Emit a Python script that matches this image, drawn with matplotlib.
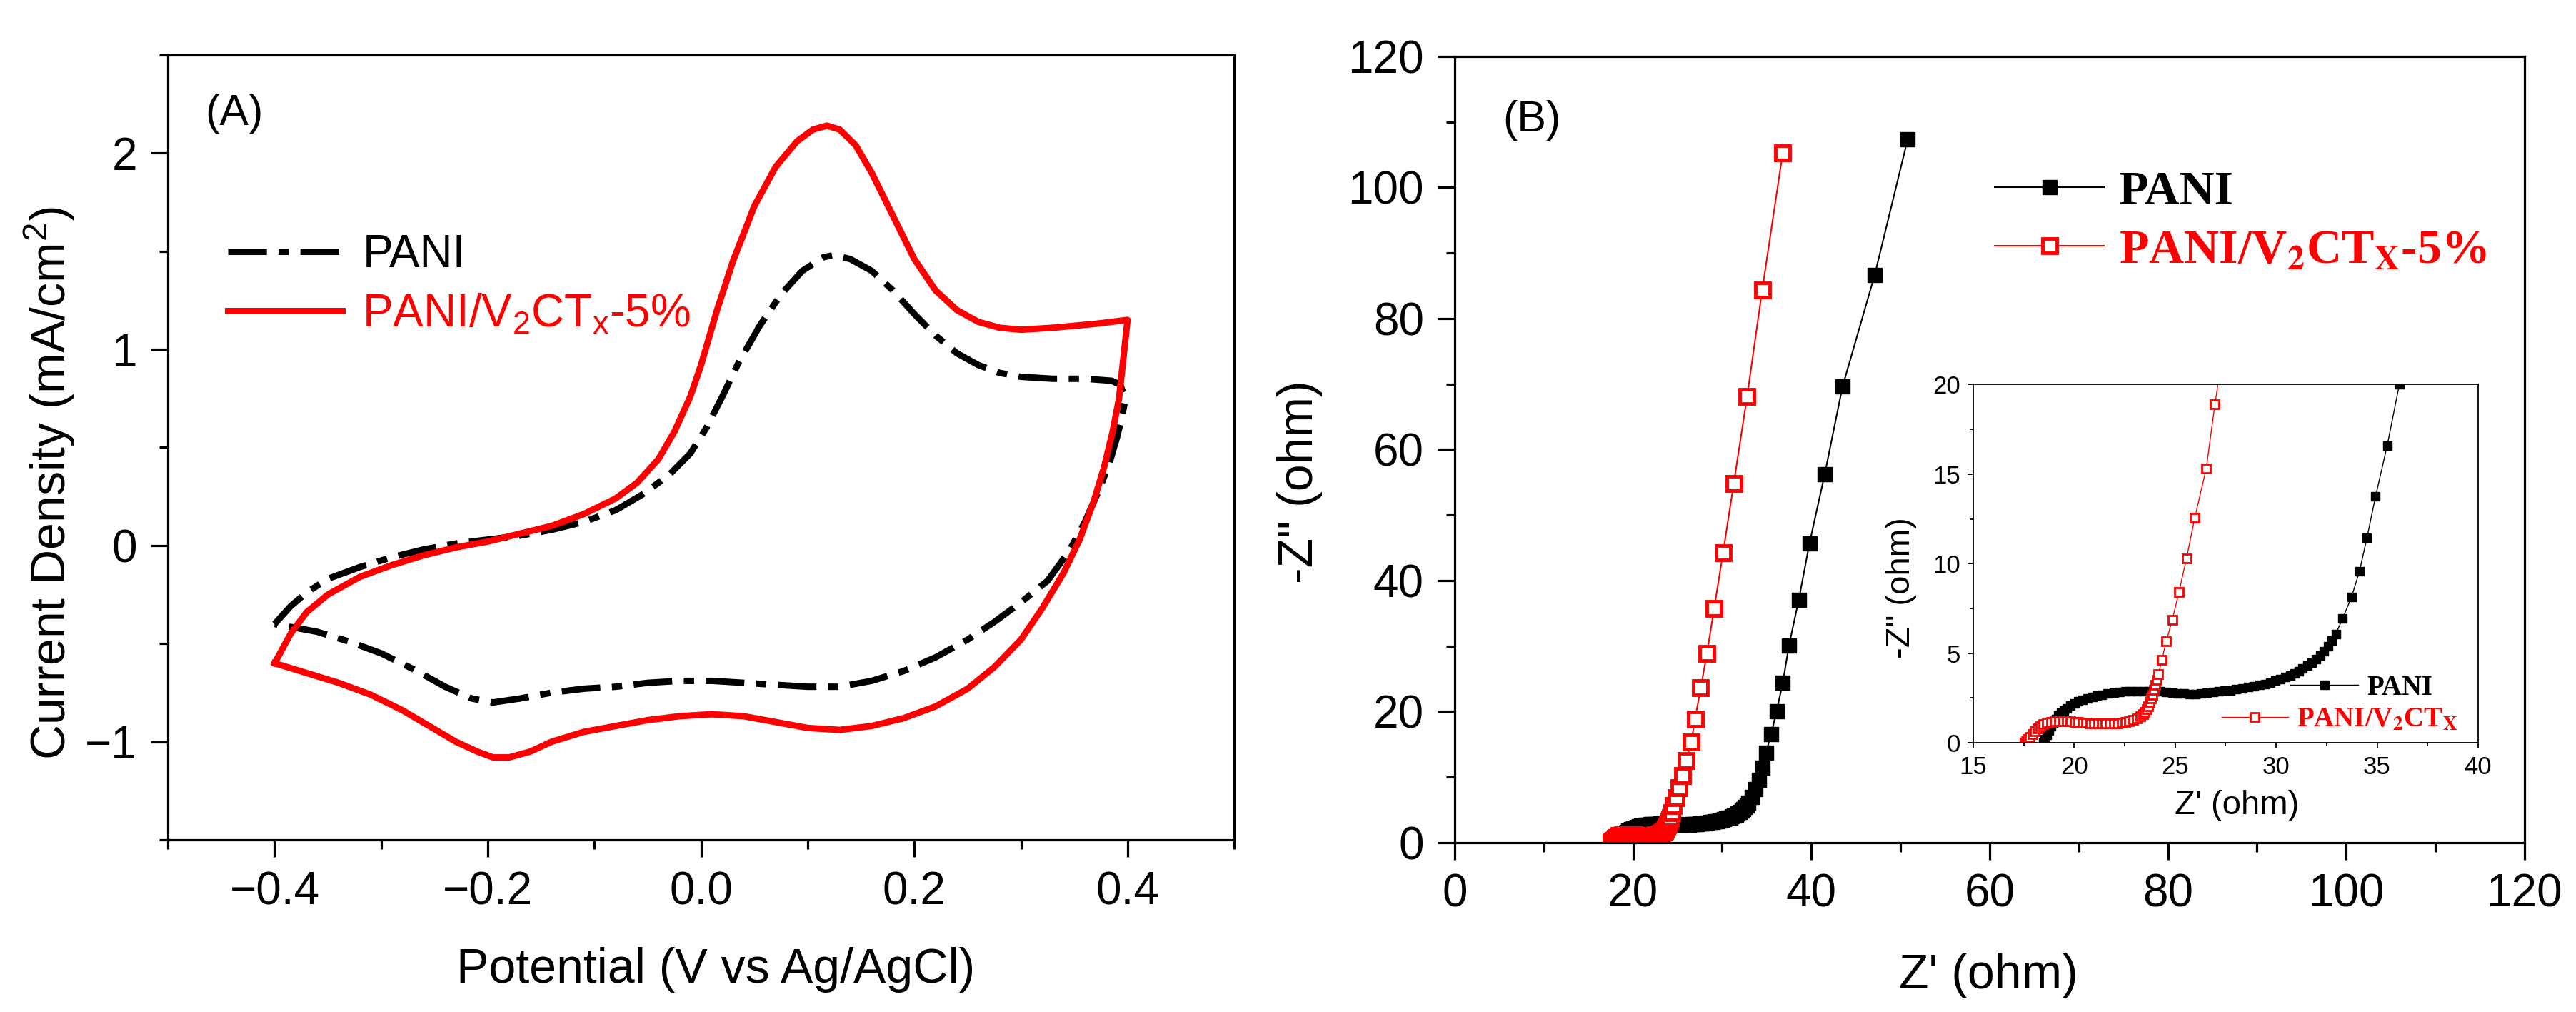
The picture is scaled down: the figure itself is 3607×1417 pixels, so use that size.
import matplotlib
matplotlib.use("Agg")
from matplotlib import pyplot as plt
from matplotlib.ticker import MultipleLocator, FuncFormatter
from matplotlib.font_manager import FontProperties
import numpy as np

plt.rcParams["font.family"] = ["Liberation Sans", "DejaVu Sans"]
plt.rcParams["mathtext.fontset"] = "custom"
plt.rcParams["mathtext.rm"] = "Liberation Sans"
plt.rcParams["mathtext.it"] = "Liberation Sans:italic"
plt.rcParams["mathtext.bf"] = "Liberation Sans:bold"

# (A) cyclic voltammetry, potential (V) and current density (mA/cm2)
pani_cv_v = [-0.400, -0.385, -0.370, -0.350, -0.320, -0.290, -0.260, -0.230, -0.200, -0.170,
             -0.140, -0.110, -0.080, -0.055, -0.030, -0.010, 0.005, 0.020, 0.035, 0.055,
             0.075, 0.095, 0.115, 0.125, 0.140, 0.160, 0.180, 0.200, 0.220, 0.240,
             0.260, 0.280, 0.300, 0.330, 0.360, 0.385, 0.393, 0.398, 0.395, 0.390,
             0.383, 0.373, 0.360, 0.345, 0.325, 0.300, 0.275, 0.250, 0.220, 0.190,
             0.160, 0.130, 0.100, 0.070, 0.040, 0.010, -0.020, -0.050, -0.080, -0.110,
             -0.140, -0.170, -0.195, -0.215, -0.240, -0.270, -0.300, -0.330, -0.360, -0.400]
pani_cv_j = [-0.40, -0.31, -0.24, -0.17, -0.11, -0.06, -0.02, 0.01, 0.03, 0.05,
             0.08, 0.12, 0.18, 0.26, 0.36, 0.47, 0.60, 0.76, 0.93, 1.12,
             1.28, 1.40, 1.47, 1.48, 1.46, 1.40, 1.30, 1.18, 1.07, 0.98,
             0.92, 0.88, 0.86, 0.85, 0.85, 0.84, 0.82, 0.75, 0.66, 0.55,
             0.42, 0.28, 0.12, -0.03, -0.18, -0.29, -0.39, -0.48, -0.57, -0.64,
             -0.69, -0.72, -0.72, -0.71, -0.70, -0.69, -0.69, -0.70, -0.72, -0.73,
             -0.75, -0.78, -0.80, -0.78, -0.72, -0.63, -0.55, -0.49, -0.44, -0.40]

comp_cv_v = [-0.400, -0.385, -0.370, -0.350, -0.320, -0.290, -0.260, -0.230, -0.200, -0.170,
             -0.140, -0.110, -0.080, -0.060, -0.040, -0.025, -0.010, 0.000, 0.015, 0.030,
             0.050, 0.070, 0.090, 0.105, 0.118, 0.130, 0.145, 0.160, 0.180, 0.200,
             0.220, 0.240, 0.260, 0.280, 0.300, 0.330, 0.370, 0.400, 0.396, 0.392,
             0.386, 0.378, 0.368, 0.355, 0.340, 0.320, 0.300, 0.275, 0.250, 0.220,
             0.190, 0.160, 0.130, 0.100, 0.070, 0.040, 0.010, -0.020, -0.050, -0.080,
             -0.110, -0.140, -0.160, -0.180, -0.195, -0.210, -0.230, -0.255, -0.280, -0.310,
             -0.340, -0.370, -0.400]
comp_cv_j = [-0.60, -0.45, -0.34, -0.25, -0.16, -0.10, -0.05, -0.01, 0.02, 0.06,
             0.10, 0.16, 0.24, 0.32, 0.44, 0.58, 0.76, 0.92, 1.20, 1.45,
             1.73, 1.93, 2.06, 2.12, 2.14, 2.12, 2.04, 1.90, 1.68, 1.46,
             1.30, 1.20, 1.14, 1.11, 1.10, 1.11, 1.13, 1.15, 0.95, 0.75,
             0.58, 0.40, 0.22, 0.03, -0.14, -0.32, -0.48, -0.62, -0.73, -0.82,
             -0.88, -0.92, -0.94, -0.93, -0.90, -0.87, -0.86, -0.87, -0.89, -0.92,
             -0.95, -1.00, -1.05, -1.08, -1.08, -1.05, -1.00, -0.92, -0.84, -0.76,
             -0.70, -0.65, -0.60]

# (B) Nyquist plot, Z' and -Z'' (ohm)
pani_zre = [18.45, 18.55, 18.65, 18.75, 18.86, 18.97, 19.09, 19.20, 19.34, 19.48,
            19.63, 19.80, 20.02, 20.20, 20.41, 20.65, 20.89, 21.13, 21.37, 21.66,
            21.95, 22.24, 22.53, 22.82, 23.11, 23.40, 23.69, 23.98, 24.27, 24.56,
            24.85, 25.13, 25.42, 25.71, 26.00, 26.29, 26.58, 26.87, 27.16, 27.45,
            27.74, 28.03, 28.32, 28.61, 28.90, 29.19, 29.48, 29.72, 29.96, 30.20,
            30.44, 30.69, 30.93, 31.12, 31.31, 31.54, 31.76, 31.97, 32.18, 32.38,
            32.57, 32.76, 32.95, 33.30, 33.73, 34.13, 34.50, 34.92, 35.50, 36.10,
            36.80, 37.50, 38.60, 39.80, 41.50, 43.50, 47.10, 50.80]
pani_zim = [0.00, 0.20, 0.45, 0.70, 0.93, 1.13, 1.33, 1.50, 1.66, 1.80,
            1.93, 2.07, 2.20, 2.30, 2.40, 2.49, 2.56, 2.63, 2.69, 2.75,
            2.80, 2.83, 2.86, 2.88, 2.89, 2.89, 2.89, 2.88, 2.86, 2.83,
            2.80, 2.77, 2.74, 2.73, 2.73, 2.76, 2.80, 2.83, 2.86, 2.90,
            2.93, 2.98, 3.04, 3.10, 3.16, 3.22, 3.29, 3.37, 3.46, 3.56,
            3.66, 3.76, 3.86, 3.99, 4.13, 4.29, 4.46, 4.65, 4.86, 5.10,
            5.39, 5.70, 6.06, 6.96, 8.12, 9.59, 11.45, 13.74, 16.60, 20.00,
            24.40, 30.10, 37.10, 45.70, 56.20, 69.60, 86.60, 107.30]

comp_zre = [17.55, 17.62, 17.70, 17.80, 17.93, 18.05, 18.19, 18.32, 18.47, 18.66,
            18.86, 19.05, 19.25, 19.44, 19.63, 19.82, 20.02, 20.21, 20.41, 20.60,
            20.79, 20.98, 21.18, 21.37, 21.56, 21.75, 21.95, 22.14, 22.34, 22.53,
            22.72, 22.92, 23.11, 23.26, 23.40, 23.50, 23.59, 23.67, 23.75, 23.82,
            23.88, 23.95, 24.02, 24.10, 24.17, 24.34, 24.56, 24.86, 25.19, 25.56,
            25.97, 26.54, 26.97, 27.60, 28.30, 29.10, 30.10, 31.30, 32.80, 34.50,
            36.80]
comp_zim = [0.00, 0.10, 0.20, 0.33, 0.47, 0.63, 0.80, 0.93, 1.04, 1.11,
            1.16, 1.19, 1.20, 1.20, 1.20, 1.19, 1.17, 1.15, 1.13, 1.11,
            1.09, 1.09, 1.09, 1.08, 1.07, 1.07, 1.07, 1.09, 1.11, 1.15,
            1.20, 1.27, 1.36, 1.47, 1.60, 1.72, 1.86, 2.05, 2.26, 2.47,
            2.69, 2.95, 3.22, 3.52, 3.83, 4.62, 5.66, 6.88, 8.42, 10.28,
            12.56, 15.31, 18.90, 23.60, 28.90, 35.70, 44.20, 54.80, 68.10, 84.40,
            105.30]

pani_label = "PANI"
comp_label_a = r"PANI/V$_\mathrm{2}$CT$_\mathrm{x}$-5%"
comp_label_b = r"PANI/V$_\mathbf{2}$CT$_\mathbf{X}$-5%"
comp_label_inset = r"PANI/V$_\mathbf{2}$CT$_\mathbf{X}$"

red = "#ff0000"


def style_axes(ax, lw, major_len, minor_len, size, pad):
    for s in ax.spines.values():
        s.set_linewidth(lw)
    ax.tick_params(which="both", direction="out", width=lw, top=False, right=False,
                   labelsize=size, pad=pad)
    ax.tick_params(which="major", length=major_len)
    ax.tick_params(which="minor", length=minor_len)


fig = plt.figure(figsize=(36.07, 14.17), dpi=100)

# ---- panel A ----
ax_a = fig.add_axes([0.0652, 0.1701, 0.4139, 0.7756])
ax_a.plot(pani_cv_v, pani_cv_j, color="black", lw=6.5, dashes=(6, 1.8, 1.6, 1.8),
          label=pani_label)
ax_a.plot(comp_cv_v, comp_cv_j, color=red, lw=6.5, label=comp_label_a)
ax_a.set_xlim(-0.5, 0.5)
ax_a.set_ylim(-1.5, 2.5)
ax_a.xaxis.set_major_locator(MultipleLocator(0.2))
ax_a.xaxis.set_minor_locator(MultipleLocator(0.1))
ax_a.yaxis.set_major_locator(MultipleLocator(1))
ax_a.yaxis.set_minor_locator(MultipleLocator(0.5))
ax_a.xaxis.set_major_formatter(FuncFormatter(lambda v, p: f"{v:.1f}".replace("-", "\u2212")))
ax_a.yaxis.set_major_formatter(FuncFormatter(lambda v, p: f"{v:.0f}".replace("-", "\u2212")))
style_axes(ax_a, 2.3, 17, 9, 46, 14)
ax_a.set_xlabel("Potential (V vs Ag/AgCl)", fontsize=49, va="center")
ax_a.xaxis.set_label_coords(0.514, -0.166)
ax_a.set_ylabel(r"Current Density (mA/cm$^\mathrm{2}$)", fontsize=49, va="center")
ax_a.yaxis.set_label_coords(-0.111, 0.454)
ax_a.text(0.035, 0.925, "(A)", transform=ax_a.transAxes, fontsize=44, ha="left", va="center")
leg_a = ax_a.legend(loc="center left", bbox_to_anchor=(0.056, 0.707), frameon=False,
                    prop=FontProperties(family="Liberation Sans", size=46),
                    handlelength=2.5, handletextpad=0.45, labelspacing=0.35,
                    borderpad=0, borderaxespad=0)
for txt, c in zip(leg_a.get_texts(), ["black", red]):
    txt.set_color(c)

# ---- panel B ----
ax_b = fig.add_axes([0.5647, 0.1673, 0.4153, 0.7770])
ax_b.plot(pani_zre, pani_zim, color="black", lw=1.5, marker="s", ms=15,
          mfc="black", mec="black", label=pani_label)
ax_b.plot(comp_zre, comp_zim, color=red, lw=1.5, marker="s", ms=15,
          mfc="white", mec=red, mew=3.5, label=comp_label_b)
ax_b.set_xlim(0, 120)
ax_b.set_ylim(0, 120)
ax_b.xaxis.set_major_locator(MultipleLocator(20))
ax_b.xaxis.set_minor_locator(MultipleLocator(10))
ax_b.yaxis.set_major_locator(MultipleLocator(20))
ax_b.yaxis.set_minor_locator(MultipleLocator(10))
style_axes(ax_b, 2.3, 17, 9, 46, 14)
ax_b.set_xlabel("Z' (ohm)", fontsize=49, va="center")
ax_b.xaxis.set_label_coords(0.499, -0.169)
ax_b.set_ylabel('-Z" (ohm)', fontsize=49, va="center")
ax_b.yaxis.set_label_coords(-0.145, 0.459)
ax_b.text(0.045, 0.919, "(B)", transform=ax_b.transAxes, fontsize=44, ha="left", va="center")
leg_b = ax_b.legend(loc="center left", bbox_to_anchor=(0.505, 0.790), frameon=False,
                    prop=FontProperties(family="Liberation Serif", weight="bold", size=49,
                                        math_fontfamily="stix"),
                    handlelength=2.25, handletextpad=0.3, labelspacing=0.3,
                    borderpad=0, borderaxespad=0)
for txt, c in zip(leg_b.get_texts(), ["black", red]):
    txt.set_color(c)

# ---- inset ----
ax_i = fig.add_axes([0.766, 0.266, 0.196, 0.354])
ax_i.plot(pani_zre, pani_zim, color="black", lw=1.0, marker="s", ms=8.5,
          mfc="black", mec="black")
ax_i.plot(comp_zre, comp_zim, color=red, lw=1.0, marker="s", ms=8.5,
          mfc="white", mec=red, mew=2)
ax_i.set_xlim(15, 40)
ax_i.set_ylim(0, 20)
ax_i.xaxis.set_major_locator(MultipleLocator(5))
ax_i.xaxis.set_minor_locator(MultipleLocator(2.5))
ax_i.yaxis.set_major_locator(MultipleLocator(5))
ax_i.yaxis.set_minor_locator(MultipleLocator(2.5))
style_axes(ax_i, 1.3, 6, 3.5, 25, 7)
ax_i.set_xlabel("Z' (ohm)", fontsize=34, va="center")
ax_i.xaxis.set_label_coords(0.522, -0.175)
ax_i.set_ylabel('-Z" (ohm)', fontsize=34, va="center")
ax_i.yaxis.set_label_coords(-0.143, 0.432)

inset_font = FontProperties(family="Liberation Serif", weight="bold", size=28,
                            math_fontfamily="stix")
h_pani = ax_i.plot([], [], color="black", lw=1.0, marker="s", ms=8.5)[0]
h_comp = ax_i.plot([], [], color=red, lw=1.0, marker="s", ms=8.5, mfc="white", mec=red, mew=2)[0]
leg_i1 = ax_i.legend([h_pani], [pani_label], loc="center left", bbox_to_anchor=(0.628, 0.153),
                     frameon=False, prop=inset_font, handlelength=2.45, handletextpad=0.3,
                     borderpad=0, borderaxespad=0)
ax_i.add_artist(leg_i1)
leg_i2 = ax_i.legend([h_comp], [comp_label_inset], loc="center left",
                     bbox_to_anchor=(0.492, 0.064), frameon=False, prop=inset_font,
                     handlelength=2.4, handletextpad=0.3, borderpad=0, borderaxespad=0)
leg_i2.get_texts()[0].set_color(red)

fig.savefig("out.png", dpi=100)
